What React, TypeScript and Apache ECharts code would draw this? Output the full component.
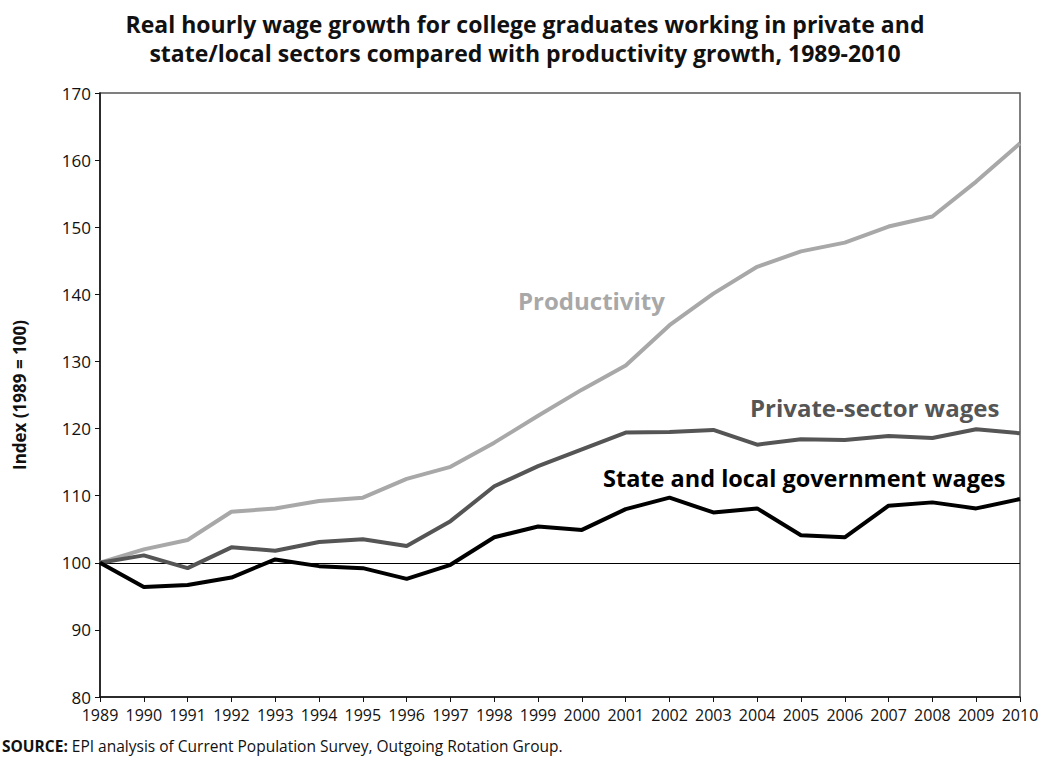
import React, { useEffect, useRef } from "react";
import * as echarts from "echarts";

const years = ["1989","1990","1991","1992","1993","1994","1995","1996","1997","1998","1999","2000","2001","2002","2003","2004","2005","2006","2007","2008","2009","2010"];
const productivity = [100, 102.0, 103.4, 107.6, 108.1, 109.2, 109.7, 112.5, 114.3, 117.9, 121.9, 125.8, 129.4, 135.4, 140.1, 144.1, 146.4, 147.7, 150.1, 151.6, 156.8, 162.5];
const privateWages = [100, 101.1, 99.2, 102.3, 101.8, 103.1, 103.5, 102.5, 106.2, 111.4, 114.4, 116.9, 119.4, 119.5, 119.8, 117.6, 118.4, 118.3, 118.9, 118.6, 119.9, 119.3];
const stateWages = [100, 96.4, 96.7, 97.8, 100.5, 99.5, 99.2, 97.6, 99.7, 103.8, 105.4, 104.9, 108.0, 109.7, 107.5, 108.1, 104.1, 103.8, 108.5, 109.0, 108.1, 109.5];

const titleLines = [
  "Real hourly wage growth for college graduates working in private and",
  "state/local sectors compared with productivity growth, 1989-2010",
];

const FONT = "'Open Sans', 'Liberation Sans', sans-serif";

export default function App() {
  const ref = useRef<HTMLDivElement>(null);
  useEffect(() => {
    if (!ref.current) return;
    const chart = echarts.init(ref.current, null, { renderer: "svg" });
    chart.setOption({
      animation: false,
      backgroundColor: "#fff",
      title: {
        text: titleLines.join("\n"),
        left: "center",
        top: 4,
        textStyle: { fontFamily: FONT, fontWeight: "bold", fontSize: 23, lineHeight: 29, color: "#111" },
      },
      grid: { left: 100, right: 30, top: 93, bottom: 64, show: true, borderColor: "#555", borderWidth: 1.5 },
      xAxis: {
        type: "category",
        data: years,
        boundaryGap: false,
        axisLine: { lineStyle: { color: "#111", width: 1.5 } },
        axisTick: { show: true, length: 5, lineStyle: { color: "#111" } },
        axisLabel: { fontFamily: FONT, fontSize: 16, color: "#111", margin: 10, interval: 0 },
        splitLine: { show: false },
      },
      yAxis: {
        type: "value",
        min: 80,
        max: 170,
        interval: 10,
        name: "Index (1989 = 100)",
        nameLocation: "middle",
        nameGap: 72,
        nameTextStyle: { fontFamily: FONT, fontWeight: "bold", fontSize: 17, color: "#111" },
        axisLine: { show: true, lineStyle: { color: "#111", width: 1.5 } },
        axisTick: { show: true, length: 5, lineStyle: { color: "#111" } },
        axisLabel: { fontFamily: FONT, fontSize: 17, color: "#111", margin: 9 },
        splitLine: { show: false },
      },
      series: [
        {
          name: "Productivity",
          type: "line",
          data: productivity,
          symbol: "none",
          lineStyle: { color: "#a8a8a8", width: 4 },
          z: 2,
        },
        {
          name: "Private-sector wages",
          type: "line",
          data: privateWages,
          symbol: "none",
          lineStyle: { color: "#555555", width: 4 },
          z: 3,
        },
        {
          name: "State and local government wages",
          type: "line",
          data: stateWages,
          symbol: "none",
          lineStyle: { color: "#000000", width: 4 },
          z: 4,
          markLine: {
            silent: true,
            symbol: "none",
            label: { show: false },
            lineStyle: { color: "#000", width: 1, type: "solid" },
            data: [{ yAxis: 100 }],
            z: 1,
          },
        },
      ],
      graphic: [
        {
          type: "text",
          left: 518,
          top: 288,
          style: { text: "Productivity", fontFamily: FONT, fontWeight: "bold", fontSize: 24, fill: "#a8a8a8" },
        },
        {
          type: "text",
          left: 750,
          top: 395,
          style: { text: "Private-sector wages", fontFamily: FONT, fontWeight: "bold", fontSize: 24, fill: "#555555" },
        },
        {
          type: "text",
          left: 603,
          top: 466,
          style: { text: "State and local government wages", fontFamily: FONT, fontWeight: "bold", fontSize: 23.5, fill: "#000" },
        },
        {
          type: "text",
          left: 2,
          top: 738,
          style: {
            text: "{b|SOURCE:} EPI analysis of Current Population Survey, Outgoing Rotation Group.",
            fontFamily: FONT,
            fontSize: 15.5,
            fill: "#111",
            rich: { b: { fontFamily: FONT, fontWeight: "bold", fontSize: 15.5, fill: "#111" } },
          },
        },
      ],
    });
    return () => chart.dispose();
  }, []);
  return <div ref={ref} style={{ width: 1050, height: 761, position: "absolute", left: 0, top: 0 }} />;
}
